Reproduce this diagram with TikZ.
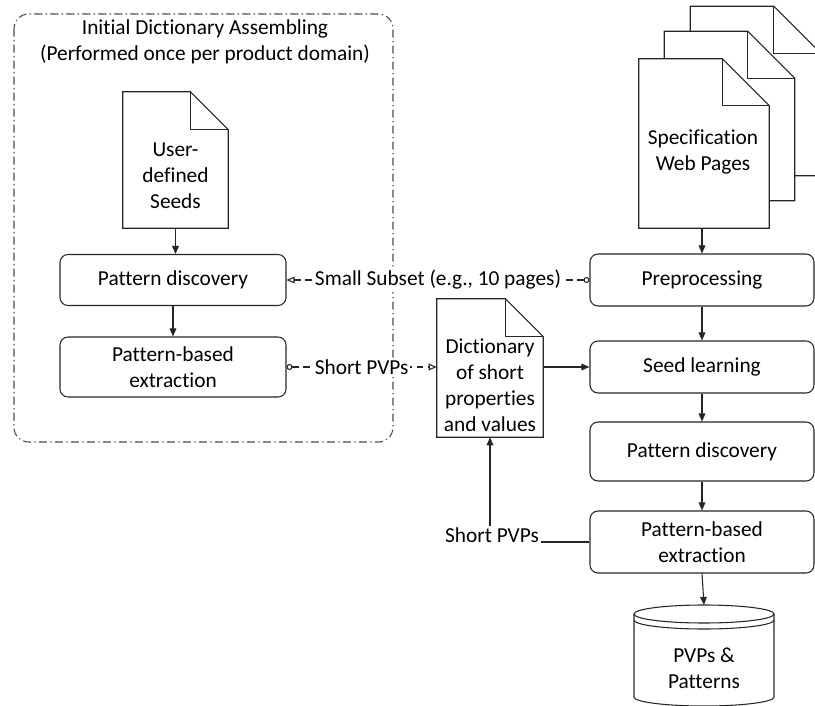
\documentclass[tikz,border=0pt]{standalone}
\usepackage{fontspec}
\setmainfont{Carlito}[Ligatures=CommonOff]
\usetikzlibrary{arrows.meta,calc}
\tikzset{
  ln/.style={draw=black!85, line width=0.8pt},
  box/.style={ln, rounded corners=6pt, align=center, fill=white},
  lbox/.style={box, minimum width=169.5pt},
  rbox/.style={box, minimum width=168pt},
  docnode/.style={inner sep=0pt},
  lbl/.style={fill=white, inner sep=1.5pt, align=center},
  flow/.style={ln, -{Triangle[length=6pt,width=5pt]}},
  dashlink/.style={ln, dash pattern=on 5pt off 3.5pt, {Circle[open,length=4.5pt,width=4.5pt]}-{Triangle[open,length=6pt,width=5pt]}},
  container/.style={draw=black!70, line width=0.8pt, rounded corners=11pt, dash pattern=on 6pt off 2.5pt on 1pt off 2.5pt},
}
\newcommand{\docpath}[2]{%
  \draw[ln, fill=white, line join=miter] (#1.north west) -- ($(#1.north east)+(-#2,0)$) -- ($(#1.north east)+(0,#2)$) -- (#1.south east) -- (#1.south west) -- cycle;
  \draw[ln] ($(#1.north east)+(-#2,0)$) -- ($(#1.north east)+(-#2,#2)$) -- ($(#1.north east)+(0,#2)$);
}
\begin{document}
\begin{tikzpicture}[x=0.75pt, y=-0.75pt, font=\fontsize{16}{19.5}\selectfont]
\clip (0,0) rectangle (815,706);
\fill[white] (0,0) rectangle (815,706);

% container
\draw[container] (14,14) rectangle (393,442);
\node[align=center] (title) at (205,42) {Initial Dictionary Assembling\\(Performed once per product domain)};

% seeds doc
\node[docnode, minimum width=78.75pt, minimum height=102pt] (seeds) at (175.5,160) {};
\docpath{seeds}{38}
\node[align=center] (seedstxt) at (175.5,176) {User-\\defined\\Seeds};

% left boxes
\node[lbox, minimum height=38.25pt] (lpd) at (173,280) {Pattern discovery};
\node[lbox, minimum height=45pt] (lpbe) at (173,367) {Pattern-based\\extraction};

% spec docs
\node[docnode, minimum width=97.5pt, minimum height=126.75pt] (specc) at (755.5,91) {};
\docpath{specc}{47}
\node[docnode, minimum width=97.5pt, minimum height=126.75pt] (specb) at (729.5,116) {};
\docpath{specb}{47}
\node[docnode, minimum width=97.5pt, minimum height=126.75pt] (speca) at (704,143.5) {};
\docpath{speca}{47}
\node[align=center] (spectxt) at (703,152) {Specification\\Web Pages};

% right boxes
\node[rbox, minimum height=39pt] (pre) at (702,280) {Preprocessing};
\node[rbox, minimum height=39pt] (seed) at (702,367) {Seed learning};
\node[rbox, minimum height=44.25pt] (rpd) at (702,451.5) {Pattern discovery};
\node[rbox, minimum height=46.5pt] (rpbe) at (702,542) {Pattern-based\\extraction};

% dictionary doc
\node[docnode, minimum width=79.5pt, minimum height=103.5pt] (dict) at (490,368) {};
\docpath{dict}{38}
\node[align=center] (dicttxt) at (490,385) {Dictionary\\of short\\properties\\and values};

% cylinder
\fill[white] (634,614) -- (634,697) .. controls (634,702) and (665.3,706) .. (704,706) .. controls (742.7,706) and (774,702) .. (774,697) -- (774,614) -- cycle;
\draw[ln] (704,614) ellipse [x radius=70, y radius=9];
\draw[ln] (634,620) .. controls (634,625) and (665.3,629) .. (704,629) .. controls (742.7,629) and (774,625) .. (774,620);
\draw[ln] (634,614) -- (634,697) .. controls (634,702) and (665.3,706) .. (704,706) .. controls (742.7,706) and (774,702) .. (774,697) -- (774,614);
\coordinate (dbtop) at (704,605);
\node[align=center] (dbtxt) at (704,668) {PVPs \&\\Patterns};

% flow arrows
\draw[flow] (seeds.south) -- (seeds.south |- lpd.north);
\draw[flow] (lpd.south) -- (lpbe.north);
\draw[flow] (speca.south -| pre.north) -- (pre.north);
\draw[flow] (pre.south) -- (seed.north);
\draw[flow] (seed.south) -- (rpd.north);
\draw[flow] (rpd.south) -- (rpbe.north);
\draw[flow] (rpbe.south) -- (dbtop);
\draw[flow] (seed.west -| dict.east) -- (seed.west);

% dashed links
\draw[dashlink] (pre.west) -- node[lbl] (sslbl) {Small Subset (e.g., 10 pages)} (lpd.east);
\draw[dashlink] (lpbe.east) -- node[lbl] (splbl) {Short PVPs} (lpbe.east -| dict.west);

% bottom short PVPs
\draw[flow] (rpbe.west) -| (dict.south);
\node[lbl] (splbl2) at (492,535) {Short PVPs};
\end{tikzpicture}
\end{document}
